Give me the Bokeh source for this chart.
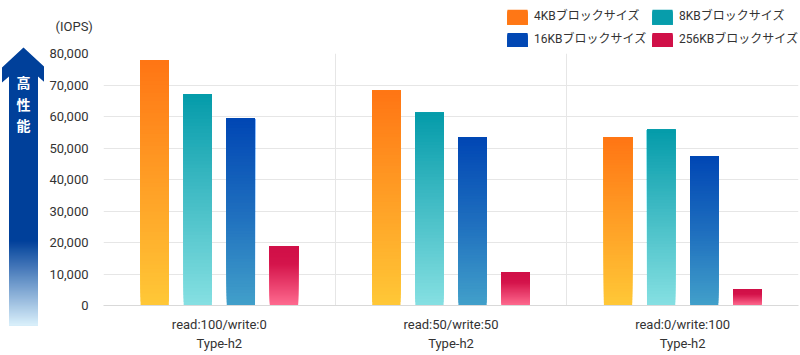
from bokeh.plotting import figure
from bokeh.layouts import row, column
from bokeh.models import Range1d, FixedTicker, NumeralTickFormatter
from bokeh.core.properties import value
from bokeh.embed import file_html
from bokeh.resources import INLINE

# ---------------- data ----------------
categories = ["read:100/write:0", "read:50/write:50", "read:0/write:100"]
subtitle = "Type-h2"
series = ["4KBブロックサイズ", "8KBブロックサイズ", "16KBブロックサイズ", "256KBブロックサイズ"]
v4k = [77900, 68200, 53500]
v8k = [67100, 61200, 55800]
v16k = [59400, 53500, 47500]
v256k = [18800, 10500, 5100]
yticks = [0, 10000, 20000, 30000, 40000, 50000, 60000, 70000, 80000]
unit_label = "(IOPS)"
arrow_text = ["高", "性", "能"]

values = [v4k, v8k, v16k, v256k]

# ---------------- styles ----------------
FONT = "Roboto, 'Noto Sans CJK JP', sans-serif"
JP = "'Noto Sans CJK JP', sans-serif"
TXT = "#333333"
GRID = "#e6e6e6"

# gradient stops (t=0 bottom, t=1 top)
grads = [
    [(0.0, (255, 200, 55)), (1.0, (255, 117, 20))],
    [(0.0, (134, 224, 226)), (1.0, (4, 155, 170))],
    [(0.0, (66, 160, 202)), (0.5, (30, 110, 190)), (1.0, (0, 70, 180))],
    [(0.0, (255, 108, 144)), (0.7, (212, 20, 75)), (1.0, (208, 16, 72))],
]


def grad(stops, t):
    for (p0, c0), (p1, c1) in zip(stops[:-1], stops[1:]):
        if t <= p1:
            u = (t - p0) / (p1 - p0) if p1 > p0 else 0
            return "#%02x%02x%02x" % tuple(round(a + (b - a) * u) for a, b in zip(c0, c1))
    return "#%02x%02x%02x" % stops[-1][1]


offsets = [-0.279, -0.093, 0.093, 0.279]
bar_w = 0.122
N = 60

common = dict(output_backend="svg", toolbar_location=None, frame_align=False)

AW = 44  # width of the arrow strip

# ---------------- main chart ----------------
p = figure(width=800 - AW, height=308, x_range=Range1d(0, 3), y_range=Range1d(0, 80000),
           min_border_left=103 - AW, min_border_right=2, min_border_top=6, min_border_bottom=50,
           **common)
p.outline_line_color = None
p.background_fill_color = "white"
p.border_fill_color = "white"

L, R, B, T, C = [], [], [], [], []
for j, vals in enumerate(values):
    for i, v in enumerate(vals):
        cx = i + 0.5 + offsets[j]
        for k in range(N):
            L.append(cx - bar_w / 2)
            R.append(cx + bar_w / 2)
            B.append(v * k / N)
            T.append(v)
            C.append(grad(grads[j], (k + 0.5) / N))
p.quad(left=L, right=R, bottom=B, top=T, fill_color=C, line_color=None)

p.xgrid.ticker = FixedTicker(ticks=[0, 1, 2, 3])
p.xgrid.grid_line_color = GRID
p.ygrid.ticker = FixedTicker(ticks=yticks)
p.ygrid.grid_line_color = GRID

p.yaxis.ticker = FixedTicker(ticks=yticks)
p.yaxis.formatter = NumeralTickFormatter(format="0,0")
p.yaxis.axis_line_color = None
p.yaxis.major_label_standoff = 9

p.xaxis.ticker = FixedTicker(ticks=[i + 0.5 for i in range(len(categories))])
p.xaxis.major_label_overrides = {i + 0.5: f"{c}\n{subtitle}" for i, c in enumerate(categories)}
p.xaxis.axis_line_color = "#d9d9d9"
p.xaxis.major_label_standoff = 5
p.xaxis.major_label_text_line_height = 1.3

for ax in (p.xaxis, p.yaxis):
    ax.major_tick_line_color = None
    ax.minor_tick_line_color = None
    ax.major_label_text_font = FONT
    ax.major_label_text_font_size = "13px"
    ax.major_label_text_color = TXT

# ---------------- legend strip ----------------
lf = figure(width=800 - AW, height=47, x_range=Range1d(AW, 800), y_range=Range1d(47, 0),
            min_border_left=0, min_border_right=0, min_border_top=0, min_border_bottom=0,
            **common)
lf.axis.visible = False
lf.grid.visible = False
lf.outline_line_color = None

sw_x = [507, 652]
sw_y = [8.5, 31.7]
sw_w, sw_h = 20, 15.5
LL, RR, BB, TT, CC = [], [], [], [], []
tx, ty = [], []
for j, name in enumerate(series):
    col, rw = j % 2, j // 2
    x0, y0 = sw_x[col], sw_y[rw]
    M = 20
    for k in range(M):
        LL.append(x0)
        RR.append(x0 + sw_w)
        BB.append(y0 + sw_h)
        TT.append(y0 + sw_h - sw_h * k / M)
        CC.append(grad(grads[j], (k + 0.5) / M))
    tx.append(x0 + sw_w + 6.5)
    ty.append(y0 + sw_h / 2 - 1)
lf.quad(left=LL, right=RR, bottom=BB, top=TT, fill_color=CC, line_color=None)
lf.text(x=tx, y=ty, text=series, text_font=value(FONT), text_font_size=value("12px"),
        text_color=TXT, text_baseline="middle", text_align="left")
lf.text(x=[55], y=[25.5], text=[unit_label], text_font=value(FONT), text_font_size=value("13px"),
        text_color=TXT, text_baseline="middle", text_align="left")

# ---------------- arrow ----------------
af = figure(width=AW, height=355, x_range=Range1d(0.5, AW + 0.5), y_range=Range1d(355, 0),
            min_border_left=0, min_border_right=0, min_border_top=0, min_border_bottom=0,
            **common)
af.axis.visible = False
af.grid.visible = False
af.outline_line_color = None

ax_pts = [23.5, 45, 45, 38, 38, 9, 9, 2, 2]
ay_pts = [47, 67, 82, 76, 325, 325, 76, 82, 67]
af.patch(ax_pts, ay_pts, fill_color="#00409a", line_color=None)
c_top, c_bot = (0, 64, 154), (218, 240, 251)
gy0, gy1 = 240, 325
steps = 85
gl, gr, gb, gt, gc = [], [], [], [], []
for k in range(steps):
    y = gy0 + (gy1 - gy0) * k / steps
    t = (k + 0.5) / steps
    gl.append(9); gr.append(38); gt.append(y); gb.append(gy1)
    gc.append("#%02x%02x%02x" % tuple(round(a + (b - a) * t) for a, b in zip(c_top, c_bot)))
af.quad(left=gl, right=gr, bottom=gb, top=gt, fill_color=gc, line_color=None)
af.text(x=[23.5] * 3, y=[81.5, 103, 124.5], text=arrow_text, text_font=value(JP),
        text_font_size=value("14px"), text_font_style="bold", text_color="white",
        text_align="center", text_baseline="middle")

layout = row(af, column(lf, p))
open("out.html", "w").write(file_html(layout, INLINE))
